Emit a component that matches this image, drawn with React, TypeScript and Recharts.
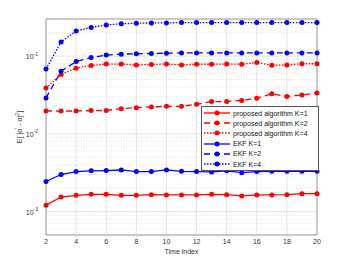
import React from 'react';
import {
  LineChart,
  Line,
  XAxis,
  YAxis,
  CartesianGrid,
  ReferenceLine,
  ReferenceArea
} from 'recharts';

const timeIndex = [2, 3, 4, 5, 6, 7, 8, 9, 10, 11, 12, 13, 14, 15, 16, 17, 18, 19, 20];

const proposedK1 = [0.00121, 0.00154, 0.00162, 0.00167, 0.00167, 0.00162, 0.00162, 0.00165, 0.00164, 0.00164, 0.00164, 0.00167, 0.00165, 0.00159, 0.00164, 0.00164, 0.00165, 0.0017, 0.0017];
const proposedK2 = [0.0197, 0.0196, 0.0197, 0.0199, 0.02, 0.0211, 0.0217, 0.0222, 0.0226, 0.0226, 0.024, 0.026, 0.026, 0.0269, 0.0288, 0.0328, 0.0303, 0.0316, 0.0335];
const proposedK4 = [0.039, 0.058, 0.07, 0.0755, 0.079, 0.079, 0.077, 0.078, 0.079, 0.077, 0.0786, 0.0786, 0.079, 0.0786, 0.0827, 0.076, 0.077, 0.0797, 0.0797];
const ekfK1 = [0.00244, 0.003, 0.00327, 0.00334, 0.00337, 0.00343, 0.00327, 0.00327, 0.00343, 0.0033, 0.00327, 0.00324, 0.00334, 0.00317, 0.00327, 0.0033, 0.0033, 0.0033, 0.0033];
const ekfK2 = [0.029, 0.064, 0.085, 0.096, 0.103, 0.106, 0.107, 0.108, 0.109, 0.11, 0.11, 0.11, 0.11, 0.11, 0.11, 0.11, 0.11, 0.11, 0.11];
const ekfK4 = [0.068, 0.152, 0.21, 0.234, 0.252, 0.26, 0.265, 0.267, 0.267, 0.27, 0.27, 0.27, 0.27, 0.27, 0.27, 0.27, 0.27, 0.27, 0.27];

const xTicks = [2, 4, 6, 8, 10, 12, 14, 16, 18, 20];
const yTicks = [0.001, 0.01, 0.1];
const yMinor = [0.0006, 0.0007, 0.0008, 0.0009, 0.002, 0.003, 0.004, 0.005, 0.006, 0.007, 0.008, 0.009, 0.02, 0.03, 0.04, 0.05, 0.06, 0.07, 0.08, 0.09, 0.2, 0.3];

const series = [
  { key: 'p1', name: 'proposed algorithm K=1', values: proposedK1, color: '#ff0000', dash: undefined },
  { key: 'p2', name: 'proposed algorithm K=2', values: proposedK2, color: '#ff0000', dash: '6 4' },
  { key: 'p4', name: 'proposed algorithm K=4', values: proposedK4, color: '#ff0000', dash: '1.5 1.5' },
  { key: 'e1', name: 'EKF K=1', values: ekfK1, color: '#0000ff', dash: undefined },
  { key: 'e2', name: 'EKF K=2', values: ekfK2, color: '#0000ff', dash: '6 4' },
  { key: 'e4', name: 'EKF K=4', values: ekfK4, color: '#0000ff', dash: '1.5 1.5' }
];

const data = timeIndex.map((t, i) => {
  const row: any = { t };
  series.forEach(s => { row[s.key] = s.values[i]; });
  return row;
});

const FONT = '"Liberation Sans", Arial, sans-serif';
const TEXT = '#333333';

const YTick = (props: any) => {
  const { x, y, payload } = props;
  const exp = Math.round(Math.log10(payload.value));
  return (
    <text x={x} y={y + 3} textAnchor="end" fontSize={7} fill={TEXT} fontFamily={FONT}>
      <tspan>10</tspan>
      <tspan dy={-3.5} fontSize={5}>{exp}</tspan>
    </text>
  );
};

const YLabel = (props: any) => {
  const vb = props.viewBox || { x: 0, y: 19, width: 46, height: 216 };
  const cx = vb.x + 22;
  const cy = vb.y + vb.height / 2;
  return (
    <text x={cx} y={cy} transform={`rotate(-90 ${cx} ${cy})`} textAnchor="middle" fontSize={7} fill={TEXT} fontFamily={FONT}>
      <tspan>E[ |α</tspan>
      <tspan dy={-3} fontSize={5}>'</tspan>
      <tspan dy={3}> - α|</tspan>
      <tspan dy={-3} fontSize={5}>2</tspan>
      <tspan dy={3}>]</tspan>
    </text>
  );
};

const LegendBox = () => (
  <div style={{ position: 'absolute', left: 201, top: 106, width: 116, border: '1px solid #555', background: '#fff', padding: '1px 0', fontFamily: FONT, fontSize: 7, color: '#111' }}>
    {series.map(s => (
      <div key={s.key} style={{ display: 'flex', alignItems: 'center', height: 10.2 }}>
        <svg width={30} height={8} style={{ display: 'block' }}>
          <line x1={2} y1={4} x2={28} y2={4} stroke={s.color} strokeWidth={1.3} strokeDasharray={s.dash} />
          <circle cx={15} cy={4} r={2.5} fill={s.color} />
        </svg>
        <span style={{ marginLeft: 1, whiteSpace: 'nowrap' }}>{s.name}</span>
      </div>
    ))}
  </div>
);

export default function App() {
  return (
    <div style={{ position: 'absolute', left: 0, top: 0, width: 350, height: 263, background: '#fff' }}>
      <LineChart width={350} height={263} data={data} margin={{ top: 19, right: 33, bottom: 0, left: 0 }}>
        {yMinor.map(v => (
          <ReferenceLine key={v} y={v} stroke="#d4d4d4" strokeWidth={0.7} strokeDasharray="1 1.5" />
        ))}
        <CartesianGrid stroke="#e4e4e4" strokeWidth={1} />
        <XAxis
          dataKey="t"
          type="number"
          domain={[2, 20]}
          ticks={xTicks}
          height={28}
          tickLine={false}
          axisLine={false}
          tickSize={0}
          tickMargin={4}
          tick={{ fontSize: 7, fill: TEXT, fontFamily: FONT }}
          label={{ value: 'Time index', position: 'insideBottom', offset: 9, fontSize: 7, fill: TEXT, fontFamily: FONT }}
        />
        <YAxis
          scale="log"
          domain={[0.0005, 0.3]}
          allowDataOverflow
          ticks={yTicks}
          width={46}
          tickLine={false}
          axisLine={false}
          tick={<YTick />}
          label={<YLabel />}
        />
        <ReferenceArea x1={2} x2={20} y1={0.0005} y2={0.3} fill="none" stroke="#8c8c8c" strokeWidth={0.8} />
        {series.map(s => (
          <Line
            key={s.key}
            dataKey={s.key}
            name={s.name}
            stroke={s.color}
            strokeWidth={1.3}
            strokeDasharray={s.dash}
            dot={{ r: 2.5, fill: s.color, stroke: s.color, strokeWidth: 0, strokeDasharray: '' }}
            isAnimationActive={false}
          />
        ))}
      </LineChart>
      <LegendBox />
    </div>
  );
}
